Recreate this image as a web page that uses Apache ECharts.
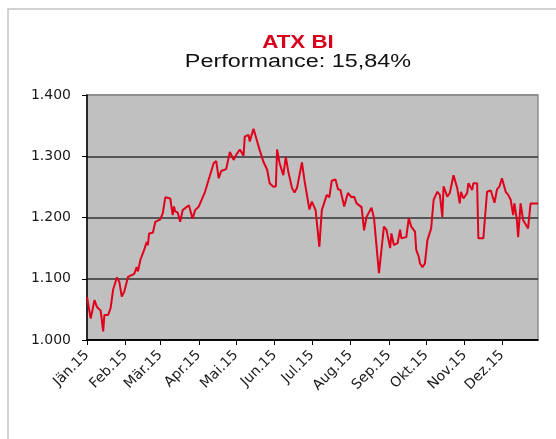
<!DOCTYPE html>
<html>
<head>
<meta charset="utf-8">
<script src="https://cdn.jsdelivr.net/npm/echarts@6/dist/echarts.min.js"></script>
<style>html,body{margin:0;padding:0;background:#fff;}#c{width:556px;height:439px;}</style>
</head>
<body>
<div id="c"></div>
<script>
// Trading dates (2015, MM-DD) and ATX BI values
var dates = ['01-01','01-04','01-07','01-09','01-12','01-14','01-15','01-18','01-20','01-22','01-25','01-27','01-29','01-31',
'02-03','02-04','02-08','02-10','02-11','02-13','02-16','02-18','02-19','02-20','02-23','02-25',
'03-01','03-03','03-05','03-09','03-11','03-12','03-13','03-15','03-17','03-19','03-24','03-27','03-29',
'04-01','04-06','04-10','04-13','04-15','04-17','04-19','04-23','04-26','04-29',
'05-01','05-04','05-07','05-08','05-11','05-12','05-15','05-18','05-20','05-23','05-26','05-28','05-31',
'06-02','06-03','06-05','06-08','06-10','06-12','06-15','06-17','06-19','06-23','06-25','06-29',
'07-01','07-04','07-07','07-09','07-13','07-15','07-17','07-20','07-22','07-24','07-27','07-30',
'08-02','08-04','08-06','08-10','08-12','08-14','08-18','08-20','08-24','08-26','08-28','08-30',
'09-02','09-03','09-05','09-08','09-10','09-11','09-15','09-17','09-19','09-22','09-23','09-25','09-26','09-28','09-30',
'10-02','10-05','10-07','10-10','10-12','10-14','10-15','10-18','10-20','10-23','10-26','10-28','10-29','10-31',
'11-03','11-04','11-07','11-08','11-11','11-12','11-16','11-19','11-22','11-25','11-27','11-29',
'12-01','12-04','12-06','12-08','12-10','12-11','12-13','12-14','12-16','12-18','12-22','12-24','12-29','12-30'];
var values = [1070,1035,1065,1054,1048,1014,1041,1041,1052,1082,1102,1095,1071,1079,
1103,1106,1108,1119,1112,1131,1147,1160,1155,1174,1175,1193,
1197,1207,1233,1231,1204,1218,1210,1208,1193,1212,1220,1198,1212,
1218,1242,1269,1289,1292,1264,1276,1279,1307,1294,
1302,1311,1301,1332,1335,1324,1345,1324,1310,1291,1278,1256,1250,
1251,1311,1289,1269,1299,1275,1248,1241,1248,1290,1261,1213,
1226,1212,1152,1212,1237,1233,1260,1262,1246,1245,1218,1240,
1233,1234,1223,1217,1179,1201,1216,1199,1109,1147,1185,1180,
1150,1174,1155,1158,1180,1166,1168,1199,1185,1177,1147,1136,1125,1119,1125,
1163,1182,1229,1242,1237,1201,1251,1234,1240,1269,1248,1223,1242,1231,
1240,1256,1245,1256,1256,1166,1166,1242,1244,1224,1246,1251,
1264,1242,1237,1229,1204,1223,1196,1168,1223,1196,1182,1223,1223,1223];
var monthNames = ['Jän','Feb','Mär','Apr','Mai','Jun','Jul','Aug','Sep','Okt','Nov','Dez'];
var yTicks = [1000, 1100, 1200, 1300, 1400];
var titleMain = 'ATX BI';
var titleSub = 'Performance: 15,84%';

// all calendar days of the axis
var days = [];
for (var i = 0; i < 364; i++) {
  days.push(new Date(Date.UTC(2015, 0, 1 + i)).toISOString().slice(0, 10));
}
var lookup = {};
dates.forEach(function (d, k) { lookup['2015-' + d] = values[k]; });
var seriesData = days.map(function (d) { return lookup.hasOwnProperty(d) ? lookup[d] : null; });

function isMonthStart(idx, val) { return val.slice(8) === '01'; }

var chart = echarts.init(document.getElementById('c'), null, {renderer: 'canvas'});
chart.setOption({
  animation: false,
  backgroundColor: '#ffffff',
  graphic: [
    {type: 'rect', shape: {x: 8, y: 9, width: 600, height: 500}, style: {fill: 'none', stroke: '#c4c4c4', lineWidth: 1.5}, z: -10},
    {type: 'text', x: 298, y: 43, scaleX: 1.24, style: {text: titleMain, font: 'bold 18px "Liberation Sans", Arial', fill: '#d8001c', align: 'center', verticalAlign: 'middle'}},
    {type: 'text', x: 298, y: 62, scaleX: 1.3, style: {text: titleSub, font: '18px "Liberation Sans", Arial', fill: '#111', align: 'center', verticalAlign: 'middle'}}
  ],
  grid: {left: 87, right: 18, top: 95, bottom: 99, show: true, backgroundColor: '#c0c0c0', borderColor: '#8a8a8a', borderWidth: 1.5},
  xAxis: {
    type: 'category',
    data: days,
    boundaryGap: false,
    axisLine: {show: true, lineStyle: {color: '#000', width: 1.5}},
    axisTick: {show: true, interval: isMonthStart, length: 5, lineStyle: {color: '#000', width: 1}},
    axisLabel: {
      interval: isMonthStart,
      rotate: 45,
      margin: 13,
      color: '#1a1a1a',
      fontSize: 14,
      fontFamily: 'DejaVu Sans',
      formatter: function (v) { return monthNames[+v.slice(5, 7) - 1] + '.15'; }
    },
    splitLine: {show: false}
  },
  yAxis: {
    type: 'value',
    min: yTicks[0],
    max: yTicks[yTicks.length - 1],
    interval: 100,
    axisLine: {show: true, lineStyle: {color: '#000', width: 1.5}},
    axisTick: {show: true, length: 5, lineStyle: {color: '#000'}},
    axisLabel: {
      margin: 16,
      color: '#1a1a1a',
      fontSize: 14,
      fontFamily: 'DejaVu Sans',
      formatter: function (v) { return (v / 1000).toFixed(3); }
    },
    splitLine: {show: true, lineStyle: {color: ['#000', '#333', '#333', '#333', '#8a8a8a'], width: 1.5}}
  },
  series: [{
    type: 'line',
    data: seriesData,
    connectNulls: true,
    showSymbol: false,
    symbol: 'none',
    lineStyle: {color: '#e0001b', width: 2},
    z: 5
  }]
});
</script>
</body>
</html>
